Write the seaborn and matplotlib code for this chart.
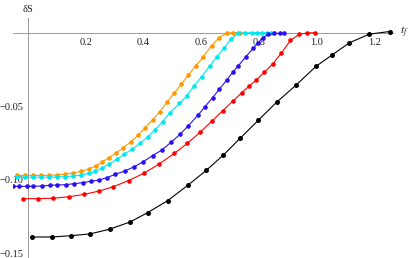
import matplotlib
matplotlib.use("Agg")
import pandas as pd
import matplotlib.pyplot as plt
import seaborn as sns
from matplotlib.ticker import MultipleLocator

# data
t_orange = [-0.038, -0.010, 0.017, 0.045, 0.073, 0.100, 0.128, 0.156, 0.183, 0.211, 0.235,
            0.256, 0.279, 0.304, 0.330, 0.356, 0.382, 0.405, 0.431, 0.455, 0.481, 0.505,
            0.531, 0.555, 0.580, 0.607, 0.635, 0.661, 0.687, 0.711, 0.734]
s_orange = [-0.0972, -0.0972, -0.0972, -0.0972, -0.0971, -0.0969, -0.0964, -0.0955, -0.0944,
            -0.0928, -0.0907, -0.0880, -0.0853, -0.0821, -0.0783, -0.0742, -0.0696, -0.0647,
            -0.0594, -0.0540, -0.0472, -0.0414, -0.0349, -0.0288, -0.0227, -0.0163, -0.0088,
            -0.0034, -0.0004, 0.0, 0.0]

t_cyan = [-0.038, -0.010, 0.017, 0.045, 0.073, 0.100, 0.128, 0.156, 0.183, 0.211, 0.232,
          0.255, 0.281, 0.307, 0.333, 0.361, 0.388, 0.414, 0.439, 0.466, 0.491, 0.524, 0.549,
          0.574, 0.601, 0.630, 0.653, 0.678, 0.702, 0.728, 0.751, 0.774, 0.791, 0.809, 0.826,
          0.841]
s_cyan = [-0.0984, -0.0984, -0.0984, -0.0984, -0.0984, -0.0982, -0.0980, -0.0976, -0.0969,
          -0.0958, -0.0945, -0.0923, -0.0894, -0.0862, -0.0828, -0.0792, -0.0753, -0.0710,
          -0.0662, -0.0605, -0.0545, -0.0481, -0.0431, -0.0363, -0.0299, -0.0225, -0.0163,
          -0.0106, -0.0043, -0.0005, 0.0, 0.0, 0.0, 0.0, 0.0, 0.0]

t_blue = [-0.052, -0.030, -0.004, 0.018, 0.047, 0.076, 0.101, 0.130, 0.159, 0.189, 0.217,
          0.247, 0.273, 0.301, 0.336, 0.368, 0.399, 0.431, 0.463, 0.495, 0.526, 0.555, 0.589,
          0.612, 0.639, 0.662, 0.688, 0.708, 0.728, 0.754, 0.780, 0.796, 0.812, 0.831, 0.851,
          0.872, 0.887]
s_blue = [-0.1046, -0.1046, -0.1046, -0.1046, -0.1044, -0.1039, -0.1037, -0.1035, -0.1028,
          -0.1021, -0.1012, -0.1003, -0.0987, -0.0965, -0.0941, -0.0912, -0.0878, -0.0837,
          -0.0799, -0.0746, -0.0692, -0.0633, -0.0560, -0.0504, -0.0442, -0.0385, -0.0322,
          -0.0270, -0.0225, -0.0163, -0.0106, -0.0070, -0.0036, -0.0012, -0.0005, -0.0005,
          -0.0005]

t_red = [-0.018, 0.036, 0.088, 0.141, 0.194, 0.246, 0.295, 0.348, 0.402, 0.454, 0.506, 0.551,
         0.595, 0.635, 0.673, 0.708, 0.739, 0.765, 0.789, 0.818, 0.848, 0.877, 0.908, 0.938,
         0.966, 0.993]
s_red = [-0.1130, -0.1130, -0.1127, -0.1117, -0.1101, -0.1078, -0.1049, -0.1007, -0.0956,
         -0.0894, -0.0822, -0.0754, -0.0679, -0.0604, -0.0533, -0.0468, -0.0410, -0.0363,
         -0.0325, -0.0268, -0.0210, -0.0138, -0.0053, -0.0011, -0.0002, 0.0]

t_black = [0.015, 0.082, 0.149, 0.215, 0.282, 0.353, 0.414, 0.483, 0.553, 0.617, 0.675, 0.734,
           0.797, 0.860, 0.928, 0.996, 1.052, 1.112, 1.181, 1.251]
s_black = [-0.1391, -0.1391, -0.1382, -0.1370, -0.1338, -0.1289, -0.1225, -0.1144, -0.1039,
           -0.0937, -0.0835, -0.0719, -0.0596, -0.0474, -0.0356, -0.0230, -0.0152, -0.0069,
           -0.0010, 0.0008]

x_ticks = [0.2, 0.4, 0.6, 0.8, 1.0, 1.2]
x_labels = ["0.2", "0.4", "0.6", "0.8", "1.0", "1.2"]
y_ticks = [-0.05, -0.10, -0.15]
y_labels = ["\u22120.05", "\u22120.10", "\u22120.15"]

series = [("orange", t_orange, s_orange, "#ff9900", 3.3),
          ("cyan", t_cyan, s_cyan, "#00e8f0", 3.3),
          ("blue", t_blue, s_blue, "#2a10f0", 3.3),
          ("red", t_red, s_red, "#ff0000", 3.3),
          ("black", t_black, s_black, "#000000", 3.6)]

sns.set_style("white")
plt.rcParams['font.family'] = ['Liberation Serif', 'DejaVu Serif']
plt.rcParams['mathtext.fontset'] = 'stix'

fig = plt.figure(figsize=(4.09, 2.58), dpi=100)
ax = fig.add_axes([13 / 409, 0, 380 / 409, 240 / 258])

for name, t, s, col, ms in series:
    df = pd.DataFrame({"t": t, "s": s})
    sns.lineplot(data=df, x="t", y="s", ax=ax, color=col, lw=0.8, sort=False,
                 estimator=None, marker="o", markersize=ms, markeredgewidth=0, zorder=3)

ax.set_xlim(-0.052, 1.263)
ax.set_ylim(-0.1534, 0.0100)
ax.set_xlabel("")
ax.set_ylabel("")

# Mathematica-like axes through the origin
for side in ["top", "right"]:
    ax.spines[side].set_visible(False)
ax.spines["left"].set_position(("data", 0))
ax.spines["bottom"].set_position(("data", 0))
for side in ["left", "bottom"]:
    ax.spines[side].set_color("#999999")
    ax.spines[side].set_linewidth(0.7)
    ax.spines[side].set_zorder(1)

ax.set_xticks(x_ticks)
ax.set_xticklabels(x_labels)
ax.set_yticks(y_ticks)
ax.set_yticklabels(y_labels)
ax.xaxis.set_minor_locator(MultipleLocator(0.05))
ax.yaxis.set_minor_locator(MultipleLocator(0.01))
ax.tick_params(which="major", direction="in", length=2.6, width=0.6, color="#999999",
               labelsize=7.5, labelcolor="#222222")
ax.tick_params(which="minor", direction="in", length=1.4, width=0.5, color="#999999")
ax.tick_params(axis="x", pad=4)
ax.tick_params(axis="y", pad=3)

ax.annotate("\u03b4S", xy=(0, 1), xycoords=("data", "axes fraction"), xytext=(0, 3),
            textcoords="offset points", ha="center", va="bottom", fontsize=7.5, color="#222222")
ax.annotate("$t_f$", xy=(1, 0), xycoords=("axes fraction", "data"), xytext=(5, 0),
            textcoords="offset points", ha="left", va="center", fontsize=8.5, color="#222222")

fig.savefig("out.png", dpi=100)
